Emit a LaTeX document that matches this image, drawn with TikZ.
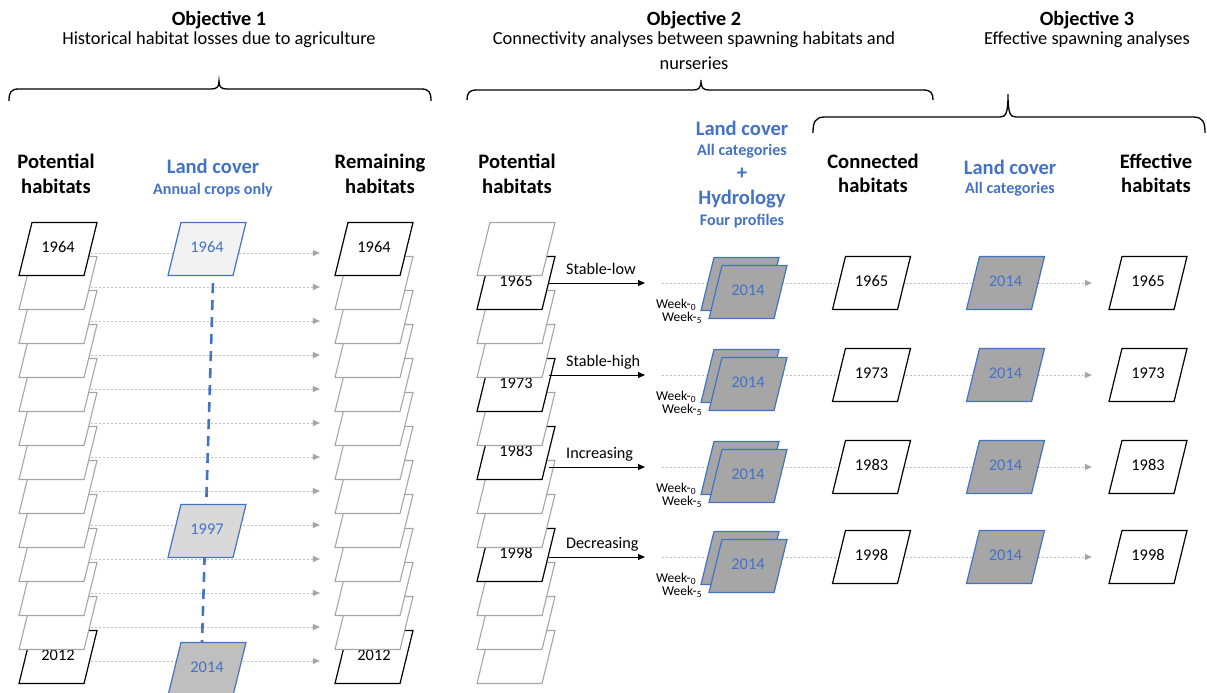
\documentclass[tikz,border=0pt]{standalone}
\usepackage{fontspec}
\setmainfont{Carlito}
\usetikzlibrary{shapes.geometric,arrows.meta}

\definecolor{lcblue}{HTML}{4472C4}
\definecolor{stackgray}{HTML}{A6A6A6}
\definecolor{dotgray}{HTML}{BFBFBF}
\definecolor{tipgray}{HTML}{A6A6A6}
\definecolor{fillA}{HTML}{F2F2F2}
\definecolor{fillB}{HTML}{D9D9D9}
\definecolor{fillC}{HTML}{BFBFBF}
\definecolor{midgray}{HTML}{A6A6A6}

\tikzset{
  para/.style={trapezium, trapezium left angle=54.2, trapezium right angle=125.8,
    trapezium stretches body=true, minimum width=78pt, minimum height=53pt,
    inner sep=0pt, text width=34pt, align=center, fill=white,
    font=\fontsize{16.4}{18}\selectfont, execute at begin node={\strut}},
  yearbox/.style={para, draw=black, line width=1.2pt},
  blankbox/.style={para, draw=stackgray, line width=1.1pt},
  coverbox/.style={para, draw=lcblue, line width=1.2pt, text=lcblue},
  weekbox/.style={coverbox, fill=midgray},
  ttl/.style={anchor=base, inner sep=0pt, font=\bfseries\fontsize{20.2}{24}\selectfont},
  subttl/.style={anchor=base, inner sep=0pt, font=\fontsize{18.4}{22}\selectfont},
  hdr/.style={anchor=base, inner sep=0pt, font=\bfseries\fontsize{20.6}{24}\selectfont},
  bluehdr/.style={hdr, text=lcblue},
  subhdr/.style={anchor=base, inner sep=0pt, font=\bfseries\fontsize{16.1}{19}\selectfont, text=lcblue},
  weeklbl/.style={inner sep=0pt, font=\fontsize{13.5}{15}\selectfont},
  flowlbl/.style={anchor=base west, inner sep=0pt, font=\fontsize{16.2}{18}\selectfont},
  bracestyle/.style={line width=1.3pt},
  dotline/.style={dotgray, line width=0.9pt, dash pattern=on 2pt off 2pt,
    -{Triangle[length=7pt,width=6pt,color=tipgray]}},
  flowarrow/.style={black, line width=0.9pt, -{Triangle[length=7pt,width=6pt]}},
  cropline/.style={lcblue, line width=2.6pt, dash pattern=on 10pt off 7pt}
}

\begin{document}
\begin{tikzpicture}[x=1pt,y=-1pt]
\clip (0,0) rectangle (1207,693);

% objectives
\node[ttl] (obj1) at (219,26) {Objective 1};
\node[subttl] (obj1txt) at (219,44.5) {Historical habitat losses due to agriculture};
\node[ttl] (obj2) at (694,26) {Objective 2};
\node[subttl] (obj2txt) at (694,44.5) {Connectivity analyses between spawning habitats and};
\node[subttl] (obj2txtb) at (694,70) {nurseries};
\node[ttl] (obj3) at (1087,26) {Objective 3};
\node[subttl] (obj3txt) at (1087,44.5) {Effective spawning analyses};

% braces
\draw[bracestyle] (9,101) .. controls (9,92) and (11,89) .. (19,89) -- (211,89)
  .. controls (217,89) and (219,87) .. (219,81) .. controls (219,87) and (221,89) .. (227,89)
  -- (421,89) .. controls (429,89) and (431,92) .. (431,101);
\draw[bracestyle] (467,100) .. controls (467,93) and (469,90) .. (477,90) -- (693,90)
  .. controls (699,90) and (701,88) .. (701,80) .. controls (701,88) and (703,90) .. (709,90)
  -- (923,90) .. controls (931,90) and (933,93) .. (933,100);
\draw[bracestyle] (813,133) .. controls (813,122) and (815,117) .. (825,117) -- (1000,117)
  .. controls (1006,117) and (1008,113) .. (1008,94) .. controls (1008,113) and (1010,117) .. (1016,117)
  -- (1193,117) .. controls (1203,117) and (1205,122) .. (1205,133);

% headers
\node[hdr] (potA1) at (56,168) {Potential};
\node[hdr] (potA2) at (56,193) {habitats};
\node[bluehdr] (cropA1) at (213,173) {Land cover};
\node[subhdr] (cropA2) at (213,194) {Annual crops only};
\node[hdr] (remA1) at (380,168) {Remaining};
\node[hdr] (remA2) at (380,193) {habitats};
\node[hdr] (potB1) at (517,168) {Potential};
\node[hdr] (potB2) at (517,193) {habitats};
\node[bluehdr] (lcB1) at (742,135) {Land cover};
\node[subhdr] (lcB2) at (742,155) {All categories};
\node[bluehdr, anchor=center] (lcB3) at (742,174) {+};
\node[bluehdr] (lcB4) at (742,204) {Hydrology};
\node[subhdr] (lcB5) at (742,225) {Four profiles};
\node[hdr] (conC1) at (873,168) {Connected};
\node[hdr] (conC2) at (873,192) {habitats};
\node[bluehdr] (lcC1) at (1010,174) {Land cover};
\node[subhdr] (lcC2) at (1010,193) {All categories};
\node[hdr] (effC1) at (1156,168) {Effective};
\node[hdr] (effC2) at (1156,192) {habitats};

% objective 1: stacks
\foreach \k/\st/\yr in {12/yearbox/2012,11/blankbox/,10/blankbox/,9/blankbox/,8/blankbox/,
  7/blankbox/,6/blankbox/,5/blankbox/,4/blankbox/,3/blankbox/,2/blankbox/,1/blankbox/,0/yearbox/1964}{
  \node[\st] (pot\k) at (58,249+34*\k) {\yr};
  \node[\st] (rem\k) at (374,249+34*\k) {\yr};
}
\foreach \k in {0,...,12}
  \draw[dotline] ([yshift=-4pt]pot\k.east) -- ([yshift=-4pt,xshift=-21pt]rem\k.west);

\coordinate (cropend) at (202,642);
\node[coverbox, fill=fillA] (crop1964) at (207,249) {1964};
\draw[cropline] ([xshift=6pt,yshift=-7pt]crop1964.south) -- (cropend);
\node[coverbox, fill=fillB] (crop1997) at (207,531) {1997};
\node[coverbox, fill=fillC] (crop2014) at (207,669) {2014};

% objective 2: stack of potential habitats
\foreach \k/\st/\yr in {12/blankbox/,11/blankbox/,10/blankbox/,9/yearbox/1998,8/blankbox/,
  7/blankbox/,6/yearbox/1983,5/blankbox/,4/yearbox/1973,3/blankbox/,2/blankbox/,1/yearbox/1965,0/blankbox/}
  \node[\st] (src\k) at (516,249+34*\k) {\yr};

% objectives 2 and 3: rows
\foreach \i/\k/\row/\yr/\prof in {1/1/283/1965/Stable-low,2/4/375/1973/Stable-high,
  3/6/467/1983/Increasing,4/9/557/1998/Decreasing}{
  \node[yearbox] (eff\i) at (1148,\row) {\yr};
  \coordinate (st\i) at (662,\row);
  \draw[dotline] (st\i) -- ([xshift=-23pt]eff\i.west);
  \coordinate (in\i) at (645,\row);
  \draw[flowarrow] (src\k.east |- in\i) -- (in\i);
  \node[flowlbl] (prof\i) at ([xshift=-79pt,yshift=9pt]in\i) {\prof};
  \node[weekbox] (wkb\i) at (740,\row+1) {};
  \node[weekbox] (wkf\i) at (748,\row+9) {2014};
  \node[weeklbl, anchor=east] (wka\i) at ([xshift=-4pt,yshift=6.5pt]wkb\i.bottom left corner) {Week-\textsubscript{0}};
  \node[weeklbl, anchor=east] (wkc\i) at ([xshift=2pt,yshift=-6.5pt]wkb\i.bottom left corner) {Week-\textsubscript{5}};
  \node[yearbox] (con\i) at (871.5,\row) {\yr};
  \node[coverbox, fill=midgray] (lc\i) at (1005.5,\row) {2014};
}

\end{tikzpicture}
\end{document}
